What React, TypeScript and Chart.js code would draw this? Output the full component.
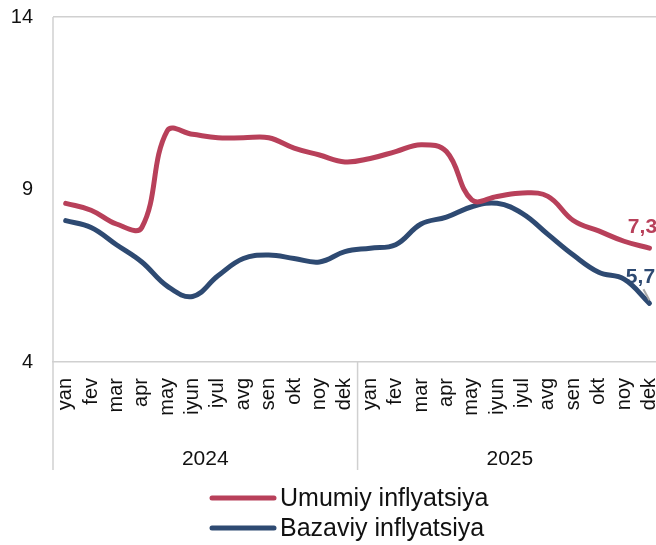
import React, { useEffect, useRef } from "react";
import { Chart, registerables } from "chart.js";

Chart.register(...registerables);

const months = ["yan", "fev", "mar", "apr", "may", "iyun", "iyul", "avg", "sen", "okt", "noy", "dek"];
const years = ["2024", "2025"];
const categories = years.flatMap(() => months);

const umumiy = [8.6, 8.4, 8.0, 7.9, 10.7, 10.6, 10.5, 10.5, 10.5, 10.2, 10.0, 9.8,
  9.9, 10.1, 10.3, 10.1, 8.7, 8.8, 8.9, 8.8, 8.1, 7.8, 7.5, 7.3];
const bazaviy = [8.1, 7.9, 7.4, 6.9, 6.2, 5.9, 6.5, 7.0, 7.1, 7.0, 6.9, 7.2,
  7.3, 7.4, 8.0, 8.2, 8.5, 8.6, 8.3, 7.7, 7.1, 6.6, 6.4, 5.7];
const seriesNames = ["Umumiy inflyatsiya", "Bazaviy inflyatsiya"];
const seriesColors = ["#B8405A", "#2E4A72"];
const yMin = 4;
const yMax = 14;
const yStep = 5;

const FONT = "'Liberation Sans', Arial, sans-serif";
const CANVAS_W = 690;
const CANVAS_H = 545;
const AXIS_BOTTOM = 470;
const LINE_COLOR = "#d0d0d0";

const decor = {
  id: "decor",
  afterDraw(chart: any) {
    const { ctx, chartArea, scales } = chart;
    const x = scales.x;
    ctx.save();
    ctx.strokeStyle = LINE_COLOR;
    ctx.lineWidth = 1.5;
    ctx.beginPath();
    ctx.moveTo(chartArea.left, chartArea.top);
    ctx.lineTo(chartArea.left, AXIS_BOTTOM);
    ctx.stroke();
    for (let g = 1; g <= years.length; g++) {
      const i = g * months.length;
      const px = g === years.length
        ? chartArea.right
        : (x.getPixelForValue(i - 1) + x.getPixelForValue(i)) / 2;
      ctx.beginPath();
      ctx.moveTo(px, chartArea.bottom);
      ctx.lineTo(px, AXIS_BOTTOM);
      ctx.stroke();
    }
    ctx.fillStyle = "#111";
    ctx.font = `21px ${FONT}`;
    ctx.textAlign = "center";
    ctx.textBaseline = "alphabetic";
    years.forEach((y, g) => {
      const a = x.getPixelForValue(g * months.length);
      const b = x.getPixelForValue(g * months.length + months.length - 1);
      ctx.fillText(y, (a + b) / 2, 465);
    });

    const fmt = (v: number) => v.toFixed(1).replace(".", ",");
    const m0 = chart.getDatasetMeta(0).data;
    const m1 = chart.getDatasetMeta(1).data;
    const p0 = m0[m0.length - 1];
    const p1 = m1[m1.length - 1];
    ctx.font = `bold 21px ${FONT}`;
    ctx.textAlign = "center";
    ctx.fillStyle = seriesColors[0];
    ctx.fillText(fmt(umumiy[umumiy.length - 1]), p0.x - 7, p0.y - 15);
    ctx.fillStyle = seriesColors[1];
    ctx.fillText(fmt(bazaviy[bazaviy.length - 1]), p1.x - 9, p1.y - 20);
    ctx.strokeStyle = "#a6a6a6";
    ctx.lineWidth = 2;
    ctx.beginPath();
    ctx.moveTo(p1.x - 6, p1.y - 14);
    ctx.lineTo(p1.x, p1.y - 3);
    ctx.stroke();

    ctx.font = `25px ${FONT}`;
    ctx.textAlign = "left";
    ctx.textBaseline = "middle";
    seriesNames.forEach((name, i) => {
      const yy = 498 + i * 30;
      ctx.strokeStyle = seriesColors[i];
      ctx.lineWidth = 5;
      ctx.lineCap = "round";
      ctx.beginPath();
      ctx.moveTo(212, yy);
      ctx.lineTo(274, yy);
      ctx.stroke();
      ctx.fillStyle = "#111";
      ctx.fillText(name, 280, yy + 1);
    });
    ctx.restore();
  },
};

export default function App() {
  const ref = useRef<HTMLCanvasElement | null>(null);

  useEffect(() => {
    if (!ref.current) return;
    const chart = new Chart(ref.current, {
      type: "line",
      data: {
        labels: categories,
        datasets: [
          {
            label: seriesNames[0],
            data: umumiy,
            borderColor: seriesColors[0],
            backgroundColor: seriesColors[0],
            borderWidth: 5,
            pointRadius: 0,
            tension: 0.4,
            borderCapStyle: "round",
            borderJoinStyle: "round",
          },
          {
            label: seriesNames[1],
            data: bazaviy,
            borderColor: seriesColors[1],
            backgroundColor: seriesColors[1],
            borderWidth: 5,
            pointRadius: 0,
            tension: 0.4,
            borderCapStyle: "round",
            borderJoinStyle: "round",
          },
        ],
      },
      options: {
        responsive: false,
        animation: false,
        devicePixelRatio: 1,
        layout: { padding: { top: 17, right: 26, bottom: CANVAS_H - AXIS_BOTTOM, left: 0 } },
        plugins: {
          legend: { display: false },
          tooltip: { enabled: false },
        },
        scales: {
          x: {
            type: "category",
            offset: true,
            grid: { display: false, drawTicks: false, offset: true },
            border: { display: true, color: LINE_COLOR, width: 1.5 },
            ticks: {
              autoSkip: false,
              minRotation: 90,
              maxRotation: 90,
              padding: 16,
              color: "#111",
              font: { size: 20, family: FONT },
            },
            afterFit: (s: any) => {
              s.height = AXIS_BOTTOM - 362;
            },
          },
          y: {
            min: yMin,
            max: yMax,
            grid: {
              drawTicks: false,
              lineWidth: 1.5,
              color: (c: any) => (c.tick && c.tick.value === yMax ? LINE_COLOR : "rgba(0,0,0,0)"),
            },
            border: { display: false },
            ticks: {
              stepSize: yStep,
              padding: 20,
              color: "#111",
              font: { size: 20, family: FONT },
            },
            afterFit: (s: any) => {
              s.width = 53;
              s.paddingTop = 12;
              s.paddingBottom = 12;
            },
          },
        },
      },
      plugins: [decor],
    });
    return () => chart.destroy();
  }, []);

  return (
    <div
      style={{
        position: "fixed",
        left: 0,
        top: 0,
        width: 656,
        height: 545,
        overflow: "hidden",
        background: "#fff",
      }}
    >
      <canvas ref={ref} width={CANVAS_W} height={CANVAS_H} style={{ width: CANVAS_W, height: CANVAS_H, display: "block" }} />
    </div>
  );
}
